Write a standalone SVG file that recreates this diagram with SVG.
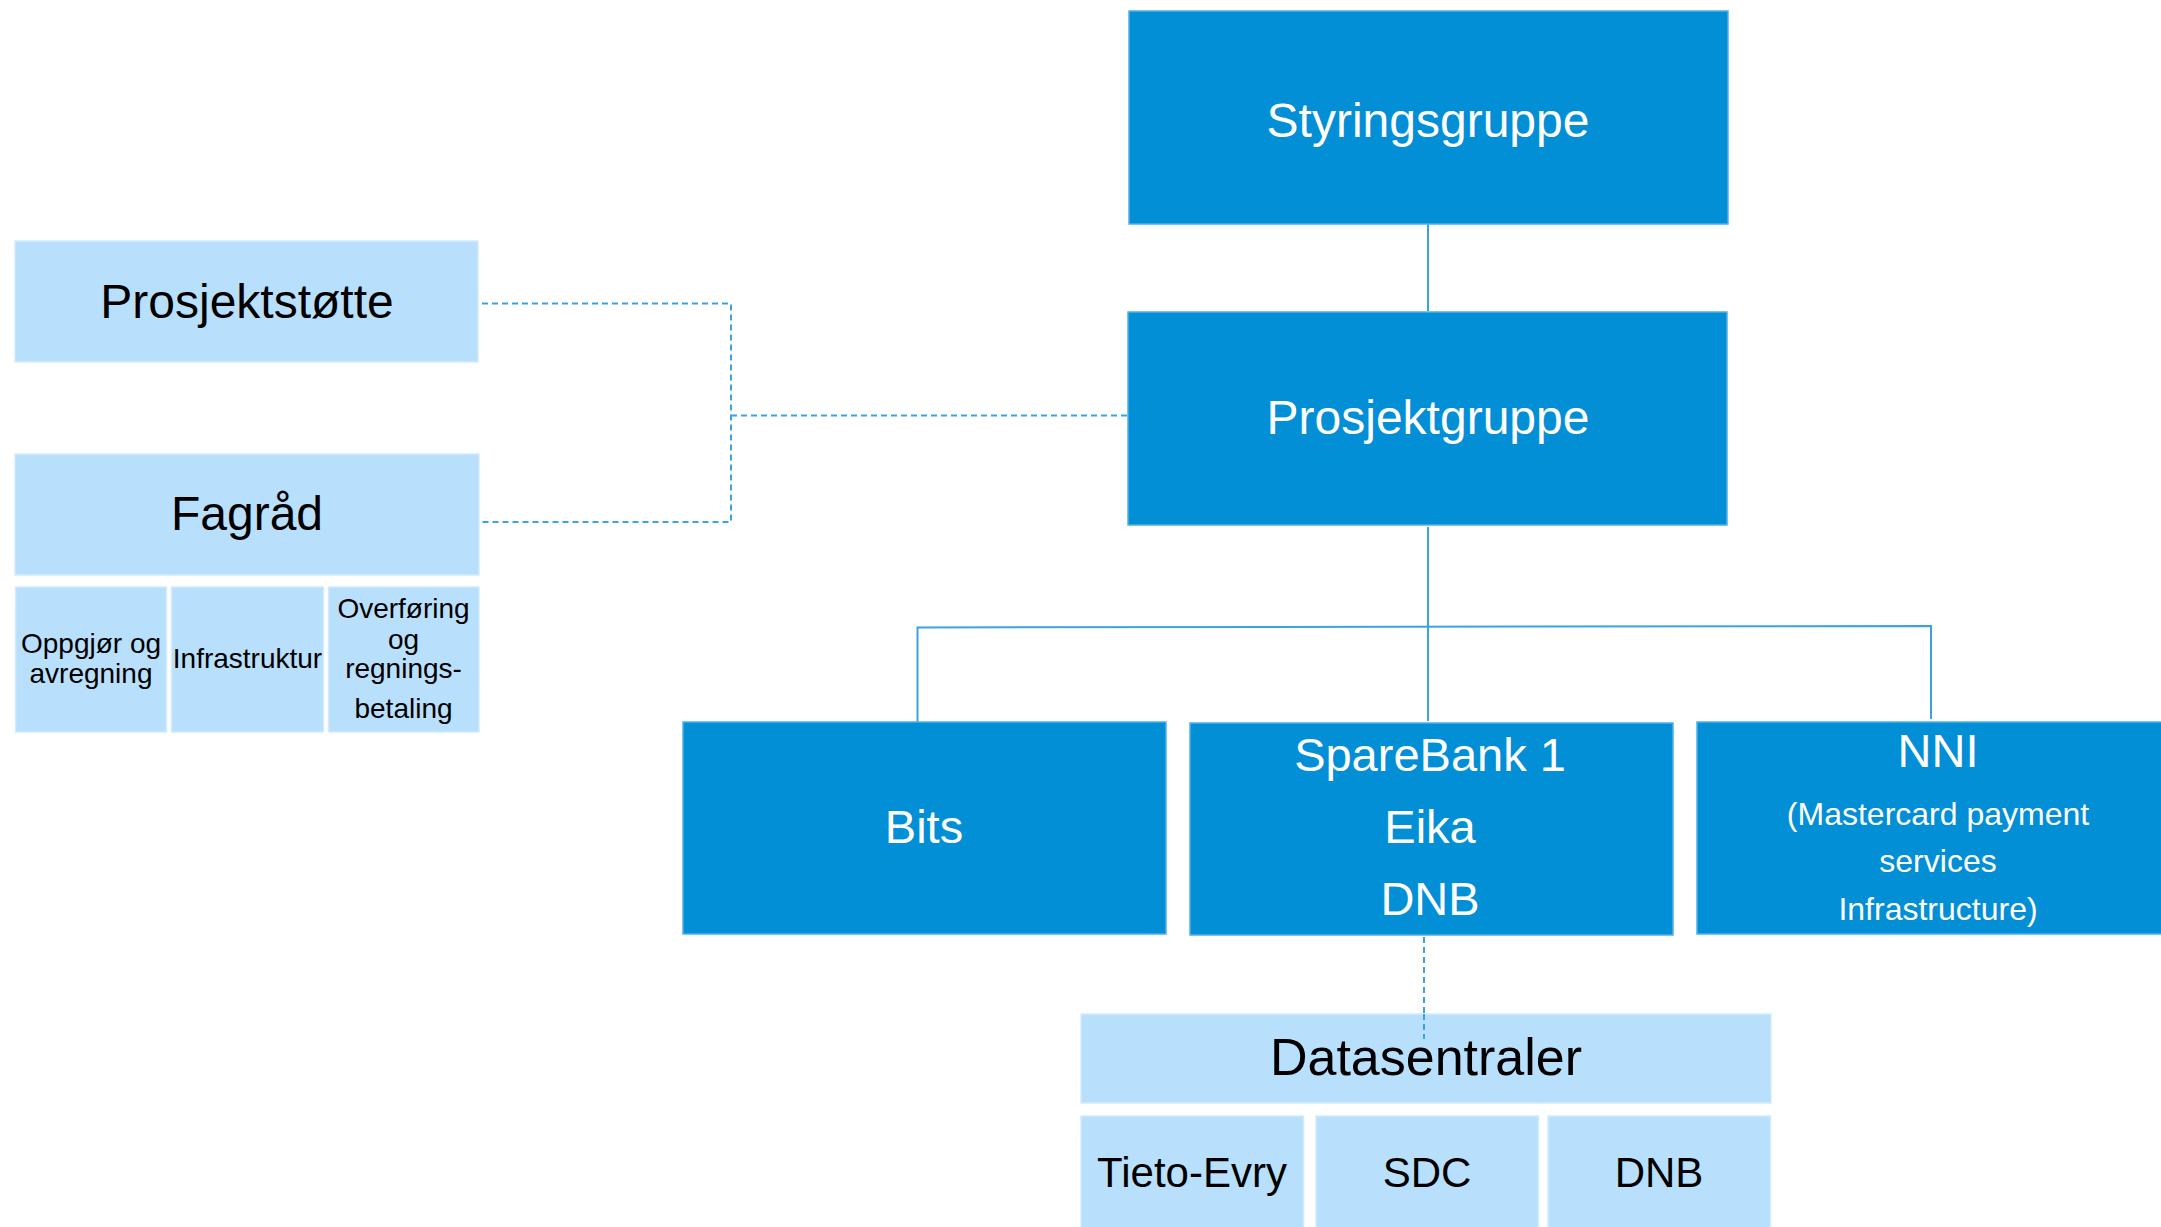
<svg xmlns="http://www.w3.org/2000/svg" width="2161" height="1227" viewBox="0 0 2161 1227">
<style>
  .dark{fill:#038fd6;stroke:#4fb0ea;stroke-width:1.5}
  .light{fill:#b8dffc;stroke:#d3ecfd;stroke-width:1.5}
  text{font-family:"Liberation Sans",Arial,sans-serif;text-anchor:middle}
  .wt{fill:#ffffff}
  .bt{fill:#000000}
  .solid{stroke:#3aa3e3;stroke-width:2;fill:none}
  .dash{stroke:#3aa3e3;stroke-width:2;fill:none;stroke-dasharray:6 4}
</style>
<rect width="2161" height="1227" fill="#ffffff"/>
<g id="connectors">
  <path class="solid" d="M1428 224 V311"/>
  <path class="solid" d="M1428 527 V721"/>
  <path class="solid" d="M917.5 722 V627.5 L1931 626 V719"/>
  <path class="dash" d="M482 303.5 H731 V522 H477"/>
  <path class="dash" d="M731 415.5 H1128"/>
  <path class="dash" d="M1424 937 V1039"/>
</g>
<g id="styringsgruppe">
  <rect class="dark" x="1129" y="11" width="599" height="213"/>
  <text class="wt" x="1428" y="137" font-size="48">Styringsgruppe</text>
</g>
<g id="prosjektgruppe">
  <rect class="dark" x="1128" y="312" width="599" height="213"/>
  <text class="wt" x="1428" y="434" font-size="48">Prosjektgruppe</text>
</g>
<g id="prosjektstotte">
  <rect class="light" x="15" y="241" width="463" height="121"/>
  <text class="bt" x="247" y="318" font-size="48">Prosjektstøtte</text>
</g>
<g id="fagrad">
  <rect class="light" x="15" y="454" width="464" height="121"/>
  <text class="bt" x="247" y="530" font-size="48">Fagråd</text>
</g>
<g id="oppgjor">
  <rect class="light" x="15.5" y="587" width="151" height="145"/>
  <text class="bt" x="91" y="653" font-size="28">Oppgjør og</text>
  <text class="bt" x="91" y="683" font-size="28">avregning</text>
</g>
<g id="infrastruktur">
  <rect class="light" x="171.5" y="587" width="152" height="145"/>
  <text class="bt" x="247.5" y="668" font-size="28">Infrastruktur</text>
</g>
<g id="overforing">
  <rect class="light" x="328.5" y="587" width="150.5" height="145"/>
  <text class="bt" x="403.5" y="618" font-size="28">Overføring</text>
  <text class="bt" x="403.5" y="649" font-size="28">og</text>
  <text class="bt" x="403.5" y="678" font-size="28">regnings-</text>
  <text class="bt" x="403.5" y="718" font-size="28">betaling</text>
</g>
<g id="bits">
  <rect class="dark" x="683" y="722" width="483" height="212"/>
  <text class="wt" x="924" y="843" font-size="47">Bits</text>
</g>
<g id="sparebank">
  <rect class="dark" x="1190" y="723" width="483" height="212"/>
  <text class="wt" x="1430" y="771" font-size="47">SpareBank 1</text>
  <text class="wt" x="1430" y="843" font-size="47">Eika</text>
  <text class="wt" x="1430" y="915" font-size="47">DNB</text>
</g>
<g id="nni">
  <rect class="dark" x="1697" y="722" width="483" height="212"/>
  <text class="wt" x="1938" y="767" font-size="47">NNI</text>
  <text class="wt" x="1938" y="825" font-size="32">(Mastercard payment</text>
  <text class="wt" x="1938" y="872" font-size="32">services</text>
  <text class="wt" x="1938" y="920" font-size="32">Infrastructure)</text>
</g>
<g id="datasentraler">
  <rect class="light" x="1081" y="1014" width="690" height="89"/>
  <text class="bt" x="1426" y="1075" font-size="52">Datasentraler</text>
</g>
<path class="dash" d="M1424 1014 V1039"/>
<g id="tieto-evry">
  <rect class="light" x="1081" y="1116" width="222.5" height="120"/>
  <text class="bt" x="1192" y="1187" font-size="42">Tieto-Evry</text>
</g>
<g id="sdc">
  <rect class="light" x="1316" y="1116" width="222.5" height="120"/>
  <text class="bt" x="1427" y="1187" font-size="42">SDC</text>
</g>
<g id="dnb-dc">
  <rect class="light" x="1548" y="1116" width="222.5" height="120"/>
  <text class="bt" x="1659" y="1187" font-size="42">DNB</text>
</g>
</svg>
